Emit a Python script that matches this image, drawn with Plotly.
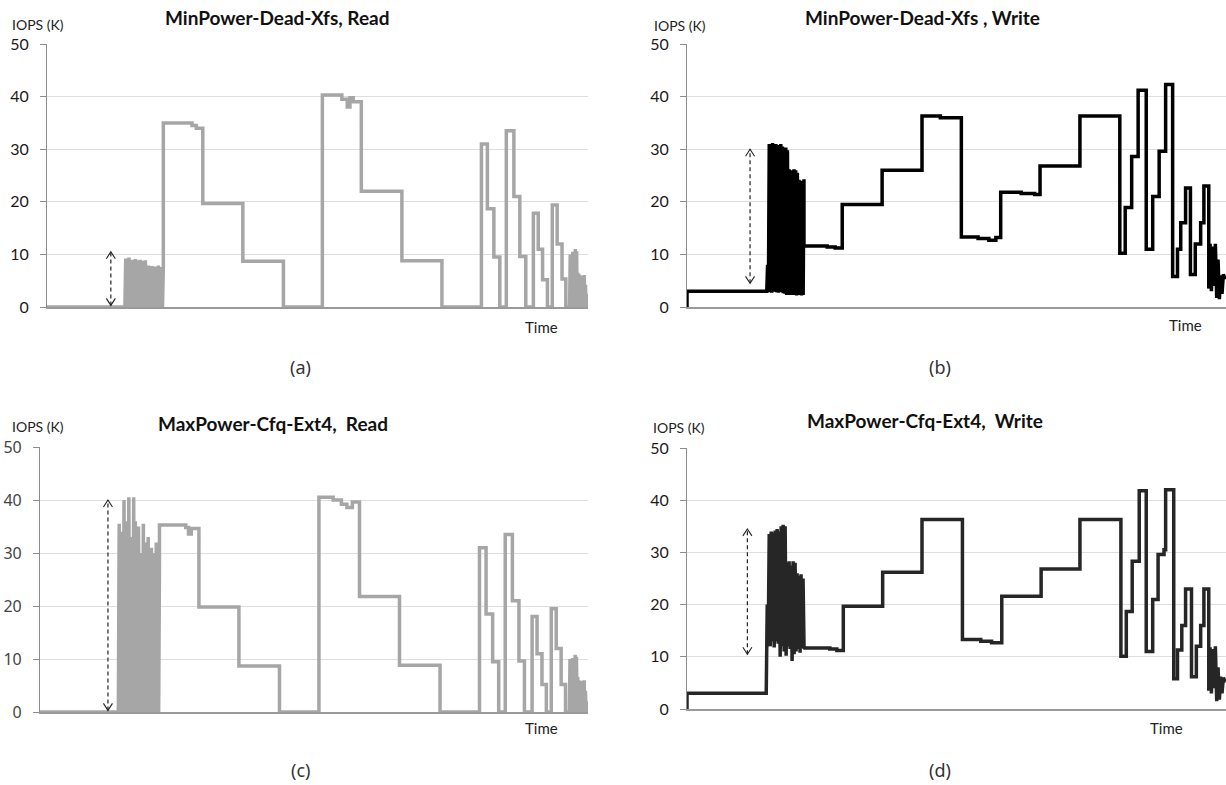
import numpy as np
import plotly.graph_objects as go

# ---------------- data (time axis in % of run, IOPS in thousands) ----------------
# (a) MinPower-Dead-Xfs, Read
a_pre_t = [0]
a_pre_v = [0]
a_burst_span = [14.4, 21.5]
a_burst_peaks = [9.2, 8.6, 9.4, 8.8, 9.0, 8.4, 9.1, 8.9, 8.7, 9.0, 8.8, 8.5, 8.9, 7.6,
                 7.9, 7.4, 7.8, 7.2, 7.7, 7.5, 7.9, 7.3, 7.6, 7.4]
a_burst_floors = [0] * 24
a_main_t = [21.5, 26.8, 27.6, 28.8, 36.2, 43.7, 50.9, 54.5, 55.5, 56.0, 56.6, 58.1, 65.6,
            73.0, 80.3, 81.4, 82.6, 83.7, 84.9, 86.3, 87.4, 88.5, 89.9, 90.8, 91.6, 92.5,
            93.4, 94.3, 95.2, 95.9]
a_main_v = [35.0, 34.5, 34.0, 19.7, 8.7, 0, 40.3, 39.5, 38.0, 39.8, 39.0, 22.0, 8.8,
            0, 31.0, 18.7, 9.5, 0, 33.5, 21.0, 9.6, 0, 17.8, 11.0, 5.2, 0,
            19.4, 12.0, 5.3, 0]
a_tail_span = [96.6, 100]
a_tail_peaks = [10.0, 9.8, 10.5, 10.2, 11.0, 10.6, 6.5, 6.2, 5.6, 6.0, 5.8, 6.1, 4.2, 2.5, 1.2]
a_tail_floors = [0] * 15

# (b) MinPower-Dead-Xfs, Write
b_pre_t = [0, 0]
b_pre_v = [0, 3.0]
b_burst_span = [14.8, 21.7]
b_burst_peaks = [8.0, 31.0, 29.5, 31.2, 30.5, 31.0, 30.8, 30.2, 31.0, 30.5, 30.0, 30.3, 29.8,
                 26.2, 26.0, 25.8, 26.2, 26.0, 25.5, 24.2, 24.0, 23.8, 24.3]
b_burst_floors = [3.0, 3.0, 2.8, 2.7, 3.0, 2.9, 2.8, 2.7, 3.0, 2.8, 2.6, 2.5, 2.3,
                  2.4, 2.3, 2.5, 2.3, 2.4, 2.2, 2.3, 2.4, 2.2, 2.3]
b_main_t = [21.7, 26.0, 27.5, 28.8, 36.2, 43.6, 47.0, 50.9, 54.0, 56.0, 57.3, 58.2, 62.0,
            64.5, 65.5, 72.9, 80.3, 81.3, 82.5, 83.7, 85.2, 86.4, 87.6, 88.8, 90.1, 91.0,
            91.6, 92.5, 93.4, 94.3, 95.3, 95.9]
b_main_v = [11.6, 11.4, 11.2, 19.5, 26.0, 36.3, 36.0, 13.3, 13.0, 12.7, 13.2, 21.8, 21.6,
            21.4, 26.8, 36.3, 10.2, 18.9, 28.6, 41.2, 11.0, 21.0, 29.6, 42.3, 5.8, 11.0,
            16.0, 22.6, 6.2, 12.0, 16.0, 23.0]
b_tail_span = [96.8, 100]
b_tail_peaks = [12.0, 11.5, 12.0, 9.0, 6.0, 6.2, 5.8]
b_tail_floors = [3.5, 3.0, 4.0, 1.7, 1.5, 2.5, 5.5]

# (c) MaxPower-Cfq-Ext4, Read
c_pre_t = [0]
c_pre_v = [0]
c_burst_span = [14.3, 21.8]
c_burst_peaks = [35.5, 20.0, 34.0, 40.0, 28.0, 36.0, 40.5, 33.0, 30.0, 40.5, 36.0, 31.0, 35.0,
                 30.0, 29.0, 35.5, 32.0, 30.0, 33.0, 29.0, 31.0, 30.0, 29.5, 32.0, 30.0, 28.0]
c_burst_floors = [0] * 26
c_main_t = [21.8, 26.6, 27.1, 27.6, 29.0, 36.3, 43.7, 50.9, 53.5, 55.0, 56.0, 57.0, 58.3,
            65.6, 73.0, 80.2, 81.4, 82.6, 83.7, 84.9, 86.2, 87.4, 88.4, 89.8, 90.7, 91.6,
            92.4, 93.3, 94.2, 95.1, 95.9]
c_main_v = [35.3, 34.8, 33.6, 34.6, 19.8, 8.7, 0, 40.5, 40.0, 39.2, 38.6, 39.6, 21.8,
            8.8, 0, 31.0, 18.5, 9.5, 0, 33.5, 21.0, 9.6, 0, 18.0, 11.0, 5.2,
            0, 19.5, 12.0, 5.2, 0]
c_tail_span = [96.6, 100]
c_tail_peaks = [10.0, 9.5, 10.2, 10.0, 10.8, 10.4, 6.6, 6.0, 5.5, 5.8, 5.9, 6.0, 4.0, 2.0, 1.0]
c_tail_floors = [0] * 15

# (d) MaxPower-Cfq-Ext4, Write
d_pre_t = [0, 0]
d_pre_v = [0, 3.0]
d_burst_span = [14.7, 21.9]
d_burst_peaks = [20.0, 33.5, 34.0, 33.8, 34.2, 34.5, 34.0, 35.0, 35.3, 35.0, 28.0, 28.3,
                 27.5, 28.3, 28.0, 26.0, 25.5, 25.8, 25.0, 12.0]
d_burst_floors = [3.0, 13.0, 12.0, 13.0, 11.8, 13.0, 12.5, 10.0, 12.0, 11.0, 10.2, 12.0,
                  11.5, 9.2, 10.5, 11.0, 11.5, 10.8, 11.7, 11.5]
d_main_t = [21.9, 26.5, 27.8, 29.0, 36.3, 43.6, 51.1, 54.5, 56.5, 58.4, 65.7, 72.9, 80.5,
            81.5, 82.6, 83.9, 85.2, 86.4, 87.4, 88.5, 88.8, 90.3, 91.0, 91.8, 92.5, 93.6,
            94.5, 95.3, 95.9]
d_main_v = [11.7, 11.5, 11.2, 19.7, 26.2, 36.3, 13.3, 13.0, 12.7, 21.6, 26.8, 36.3, 10.1,
            18.7, 28.3, 41.8, 11.0, 21.0, 29.6, 30.5, 42.0, 5.8, 11.3, 16.0, 23.0, 6.2,
            12.0, 16.0, 23.0]
d_tail_span = [96.8, 100]
d_tail_peaks = [11.8, 11.5, 12.0, 8.0, 6.2, 6.0, 5.8]
d_tail_floors = [3.5, 3.0, 4.0, 1.5, 1.8, 3.0, 5.5]

# dashed double arrows: (time position, low, high)
arrow_a = [11.8, 0.3, 10.5]
arrow_b = [11.7, 4.5, 30.0]
arrow_c = [12.4, 0.3, 40.0]
arrow_d = [11.2, 10.5, 34.5]

titles = ["MinPower-Dead-Xfs, Read", "MinPower-Dead-Xfs , Write",
          "MaxPower-Cfq-Ext4,  Read", "MaxPower-Cfq-Ext4,  Write"]
captions = ["(a)", "(b)", "(c)", "(d)"]
y_ticks = [0, 10, 20, 30, 40, 50]


# ---------------- helpers ----------------
def step_path(times, levels, t_end):
    xs, ys = [], []
    for i, (t, v) in enumerate(zip(times, levels)):
        t_next = times[i + 1] if i + 1 < len(times) else t_end
        xs += [t, t_next]
        ys += [v, v]
    return xs, ys


def burst_path(span, peaks, floors):
    n = len(peaks)
    xs = np.linspace(span[0], span[1], 2 * n).tolist()
    ys = []
    for f, p in zip(floors, peaks):
        ys += [f, p]
    return xs, ys


def series(pre_t, pre_v, bspan, bpk, bfl, main_t, main_v, tspan, tpk, tfl):
    x, y = [], []
    for px, py in (step_path(pre_t, pre_v, bspan[0]),
                   burst_path(bspan, bpk, bfl),
                   step_path(main_t, main_v, tspan[0]),
                   burst_path(tspan, tpk, tfl)):
        x += px
        y += py
    return x, y


panels = [
    series(a_pre_t, a_pre_v, a_burst_span, a_burst_peaks, a_burst_floors, a_main_t, a_main_v,
           a_tail_span, a_tail_peaks, a_tail_floors),
    series(b_pre_t, b_pre_v, b_burst_span, b_burst_peaks, b_burst_floors, b_main_t, b_main_v,
           b_tail_span, b_tail_peaks, b_tail_floors),
    series(c_pre_t, c_pre_v, c_burst_span, c_burst_peaks, c_burst_floors, c_main_t, c_main_v,
           c_tail_span, c_tail_peaks, c_tail_floors),
    series(d_pre_t, d_pre_v, d_burst_span, d_burst_peaks, d_burst_floors, d_main_t, d_main_v,
           d_tail_span, d_tail_peaks, d_tail_floors),
]
arrows = [arrow_a, arrow_b, arrow_c, arrow_d]
line_colors = ["#a6a6a6", "#000000", "#a6a6a6", "#262626"]

W, H = 1226, 785
# plot-area pixel boxes: (left, right, y0 pixel, y50 pixel)
boxes = [(47, 588, 307, 44), (687, 1226, 307, 44), (40, 588, 712, 447), (687, 1226, 709, 448)]

fig = go.Figure()
layout = dict(width=W, height=H, margin=dict(l=0, r=0, t=0, b=0, pad=0, autoexpand=False),
              paper_bgcolor="white", plot_bgcolor="white", showlegend=False)

for i, ((x, y), col, arr, box) in enumerate(zip(panels, line_colors, arrows, boxes)):
    xa = "x" if i == 0 else f"x{i+1}"
    ya = "y" if i == 0 else f"y{i+1}"
    fig.add_trace(go.Scatter(x=x, y=y, mode="lines", xaxis=xa, yaxis=ya,
                             line=dict(color=col, width=3.5), hoverinfo="skip"))
    # dashed arrow shaft
    fig.add_trace(go.Scatter(x=[arr[0], arr[0]], y=[arr[1], arr[2]], mode="lines",
                             xaxis=xa, yaxis=ya,
                             line=dict(color="#222222", width=1.2, dash="4px,3px"),
                             hoverinfo="skip"))
    left, right, py0, py50 = box
    ux = 100.0 / (right - left)      # data units per pixel (x)
    uy = 50.0 / (py0 - py50)         # data units per pixel (y)
    hw, hh = 4.5 * ux, 7 * uy
    for tip, sgn in ((arr[2], -1), (arr[1], 1)):
        fig.add_trace(go.Scatter(x=[arr[0] - hw, arr[0], arr[0] + hw],
                                 y=[tip + sgn * hh, tip, tip + sgn * hh], mode="lines",
                                 xaxis=xa, yaxis=ya,
                                 line=dict(color="#222222", width=1.1), hoverinfo="skip"))

    tickfont = dict(family="Lato, Open Sans, sans-serif", size=16, color="#1a1a1a")
    if i == 2:
        tickfont = dict(family="Noto Sans, sans-serif", size=16, color="#444444")
    key_x = "xaxis" if i == 0 else f"xaxis{i+1}"
    key_y = "yaxis" if i == 0 else f"yaxis{i+1}"
    layout[key_x] = dict(domain=[left / W, right / W], range=[0, 100], anchor=ya,
                         showline=True, linecolor="#9a9a9a", linewidth=1.5,
                         showgrid=False, zeroline=False, showticklabels=False, ticks="")
    layout[key_y] = dict(domain=[1 - py0 / H, 1 - py50 / H], range=[0, 50], anchor=xa,
                         tickvals=y_ticks, showline=True, linecolor="#8c8c8c", linewidth=1.2,
                         ticks="outside", ticklen=6, tickcolor="#8c8c8c",
                         showgrid=True, gridcolor="#dedede", gridwidth=1, zeroline=False,
                         tickfont=tickfont, ticklabelstandoff=8)

fig.update_layout(**layout)

# text annotations: titles, axis names, captions
title_pos = [(277, 18), (922, 18), (273, 423), (925, 420)]
iops_pos = [(38, 25), (680, 26), (38, 426), (679, 427)]
time_pos = [(541, 327), (1185, 325), (541, 728), (1166, 728)]
cap_pos = [(300, 367), (940, 367), (300, 770), (940, 770)]

for i in range(4):
    fig.add_annotation(x=title_pos[i][0] / W, y=1 - title_pos[i][1] / H, xref="paper", yref="paper",
                       text=f"<b>{titles[i]}</b>", showarrow=False, xanchor="center", yanchor="middle",
                       font=dict(family="Lato, Open Sans, sans-serif", size=19, color="#111111"))
    fig.add_annotation(x=iops_pos[i][0] / W, y=1 - iops_pos[i][1] / H, xref="paper", yref="paper",
                       text="IOPS (K)", showarrow=False, xanchor="center", yanchor="middle",
                       font=dict(family="Lato, Open Sans, sans-serif", size=14, color="#222222"))
    fig.add_annotation(x=time_pos[i][0] / W, y=1 - time_pos[i][1] / H, xref="paper", yref="paper",
                       text="Time", showarrow=False, xanchor="center", yanchor="middle",
                       font=dict(family="Lato, Open Sans, sans-serif", size=15, color="#222222"))
    fig.add_annotation(x=cap_pos[i][0] / W, y=1 - cap_pos[i][1] / H, xref="paper", yref="paper",
                       text=captions[i], showarrow=False, xanchor="center", yanchor="middle",
                       font=dict(family="Noto Sans, sans-serif", size=18, color="#333333"))

fig.write_html("out.html", config={"displayModeBar": False},
               post_script="document.body.style.margin='0px';")
